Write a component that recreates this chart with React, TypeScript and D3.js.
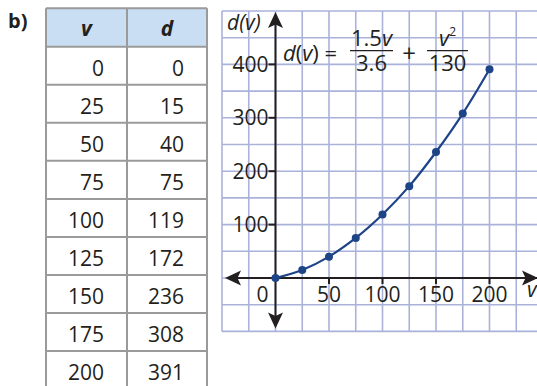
import React from 'react';
import * as d3 from 'd3';

// table + graph values
const speeds = [0, 25, 50, 75, 100, 125, 150, 175, 200];
const distances = [0, 15, 40, 75, 119, 172, 236, 308, 391];
const xTicks = [0, 50, 100, 150, 200];
const yTicks = [100, 200, 300, 400];
const xGrid = d3.range(-50, 251, 25);
const yGrid = d3.range(-100, 501, 50);

const W = 537;
const H = 386;
const FONT = '"Open Sans", "Noto Sans", sans-serif';
const GRID = '#aab2da';
const BLUE = '#1d4487';
const INK = '#231f20';

const x = d3.scaleLinear().domain([0, 200]).range([275.5, 489.5]);
const y = d3.scaleLinear().domain([0, 400]).range([278, 64.4]);

const arrow = (tx: number, ty: number, angle: number) => {
  // tip at (tx, ty), drawn pointing up then rotated
  return (
    <path
      d="M0,0 L7.5,16 L0,12.5 L-7.5,16 Z"
      fill={INK}
      transform={`translate(${tx},${ty}) rotate(${angle})`}
    />
  );
};

const Table = () => {
  const cols = [46, 127, 207];
  const top = 8.3;
  const headH = 38.4;
  const rowH = 38.05;
  return (
    <g fontFamily={FONT} fontSize={21} fill={INK}>
      <rect x={cols[0]} y={top} width={cols[2] - cols[0]} height={headH} fill="#c9def2" />
      <text x={(cols[0] + cols[1]) / 2} y={top + 28} textAnchor="middle" fontWeight="bold" fontStyle="italic">v</text>
      <text x={(cols[1] + cols[2]) / 2} y={top + 28} textAnchor="middle" fontWeight="bold" fontStyle="italic">d</text>
      {speeds.map((s, i) => {
        const ry = top + headH + i * rowH;
        return (
          <g key={s}>
            <text x={104} y={ry + 28.8} textAnchor="end">{s}</text>
            <text x={184} y={ry + 28.8} textAnchor="end">{distances[i]}</text>
          </g>
        );
      })}
      <g stroke="#9a9a9a" strokeWidth={2} fill="none">
        {cols.map((c) => (
          <line key={c} x1={c} x2={c} y1={top} y2={H} />
        ))}
        <line x1={cols[0]} x2={cols[2]} y1={top} y2={top} />
        {speeds.map((s, i) => {
          const ly = top + headH + i * rowH;
          return <line key={s} x1={cols[0]} x2={cols[2]} y1={ly} y2={ly} />;
        })}
      </g>
    </g>
  );
};

const Graph = () => {
  const gx = d3.scaleLinear().domain([0, 25]).range([0, x(25) - x(0)]);
  const xl = x(0) + gx(-50);
  const yt = y(0) - (y(0) - y(50)) * 10;
  const yb = y(0) + (y(0) - y(50)) * 2;
  const pts = speeds.map((s, i) => [x(s), y(distances[i])] as [number, number]);
  const line = d3.line().curve(d3.curveCatmullRom.alpha(0.5));

  return (
    <g fontFamily={FONT} fill={INK}>
      <rect x={xl} y={yt} width={W - xl} height={yb - yt} fill="#fff" />
      <g stroke={GRID} strokeWidth={1.6}>
        {xGrid.map((v) => (
          <line key={v} x1={x(v)} x2={x(v)} y1={yt} y2={yb} />
        ))}
        {yGrid.map((v) => (
          <line key={v} x1={xl} x2={W} y1={y(v)} y2={y(v)} />
        ))}
      </g>

      {/* axes */}
      <g stroke={INK} strokeWidth={2}>
        <line x1={x(0)} x2={x(0)} y1={yt + 6} y2={yb - 6} />
        <line x1={xl + 6} x2={W} y1={y(0)} y2={y(0)} />
        {yTicks.map((v) => (
          <line key={v} x1={x(0) - 7} x2={x(0)} y1={y(v)} y2={y(v)} />
        ))}
        {xTicks.filter((v) => v > 0).map((v) => (
          <line key={v} x1={x(v)} x2={x(v)} y1={y(0)} y2={y(0) + 6} />
        ))}
      </g>
      {arrow(x(0), yt + 1, 0)}
      {arrow(x(0), yb - 3, 180)}
      {arrow(xl + 3, y(0), -90)}
      {arrow(W + 1, y(0), 90)}

      <g fontSize={21}>
        {yTicks.map((v) => (
          <text key={v} x={x(0) - 7} y={y(v) + 7.5} textAnchor="end">{v}</text>
        ))}
        {xTicks.map((v) => (
          <text key={v} x={v === 0 ? x(0) - 13 : x(v)} y={y(0) + 23.5} textAnchor="middle">{v}</text>
        ))}
        <text x={227} y={30} fontStyle="italic">d(v)</text>
        <text x={527} y={297} fontStyle="italic">v</text>
      </g>

      {/* formula */}
      <g fontSize={22}>
        <text x={283} y={61}><tspan fontStyle="italic">d</tspan>(<tspan fontStyle="italic">v</tspan>) =</text>
        <text x={371.5} y={46} textAnchor="middle">1.5<tspan fontStyle="italic">v</tspan></text>
        <line x1={350} x2={393} y1={50.7} y2={50.7} stroke={INK} strokeWidth={1.3} />
        <text x={371.5} y={70.5} textAnchor="middle">3.6</text>
        <text x={409} y={62} textAnchor="middle" fontSize={24}>+</text>
        <text x={447.5} y={46} textAnchor="middle"><tspan fontStyle="italic">v</tspan><tspan fontSize={12} dy={-10}>2</tspan></text>
        <line x1={427} x2={468} y1={50.7} y2={50.7} stroke={INK} strokeWidth={1.3} />
        <text x={447.5} y={70.5} textAnchor="middle">130</text>
      </g>

      <path d={line(pts) ?? ''} fill="none" stroke={BLUE} strokeWidth={2.2} />
      {pts.map(([px, py], i) => (
        <circle key={i} cx={px} cy={py} r={4} fill={BLUE} />
      ))}
    </g>
  );
};

export default function App() {
  return (
    <svg width={W} height={H} style={{ position: 'absolute', left: 0, top: 0, background: '#fff' }}>
      <text x={8} y={28} fontFamily={FONT} fontSize={20} fontWeight="bold" fill={INK}>b)</text>
      <Table />
      <Graph />
    </svg>
  );
}
